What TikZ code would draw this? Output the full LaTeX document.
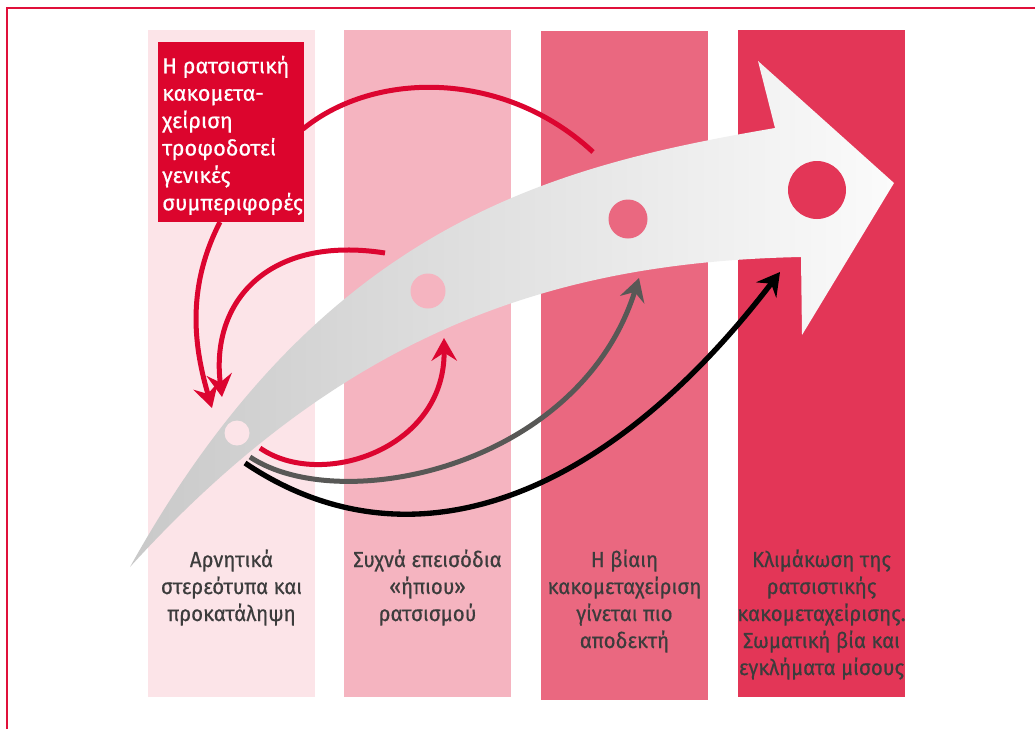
\documentclass[tikz,border=0pt]{standalone}
\usepackage{fontspec}
\setmainfont{Fira Sans}[FakeBold=0.6]
\newfontfamily\condfont{Fira Sans}[FakeBold=0.5,FakeStretch=0.94]
\newfontfamily\boxfont{Fira Sans}[FakeBold=0.6]
\usetikzlibrary{arrows.meta}
\definecolor{cA}{HTML}{FCE4E8}
\definecolor{cB}{HTML}{F5B4C0}
\definecolor{cC}{HTML}{EA6880}
\definecolor{cD}{HTML}{E33657}
\definecolor{boxred}{HTML}{DC052D}
\definecolor{arrred}{HTML}{DC0530}
\definecolor{arrgray}{HTML}{585856}
\definecolor{txtgray}{HTML}{3C3C3C}
\definecolor{framered}{HTML}{E0103A}
\definecolor{bandL}{HTML}{C9C9C9}
\definecolor{bandR}{HTML}{FBFBFB}
\begin{document}
\begin{tikzpicture}[x=0.75pt,y=-0.75pt,
  tip/.style={-{Stealth[length=17pt,width=19pt,inset=6pt]}},
  redarr/.style={draw=arrred,line width=3.75pt,tip},
  redline/.style={draw=arrred,line width=3.75pt},
  grayarr/.style={draw=arrgray,line width=3.75pt,tip},
  blackarr/.style={draw=black,line width=4pt,tip},
  boxtxt/.style={font=\boxfont\fontsize{16.3}{20}\selectfont,text=white,anchor=base west,inner sep=0pt},
  btext/.style={font=\condfont\fontsize{16.3}{20}\selectfont,text=txtgray,anchor=base,inner sep=0pt}]
\useasboundingbox (0,0) rectangle (1035,729);
\fill[white] (0,0) rectangle (1035,729);
% frame
\draw[framered,line width=1.5pt] (6.5,729) -- (6.5,7.5) -- (1035,7.5);
% columns
\fill[cA] (148,30) rectangle (315,697);
\fill[cB] (344,30) rectangle (511,697);
\fill[cC] (541,31) rectangle (708,700);
\fill[cD] (738,30) rectangle (905,697);
% big arrow band
\shade[left color=bandL,right color=bandR]
  (130,567) .. controls (322,222) and (554,166) .. (775,128)
  -- (758,61) -- (894,183) -- (802,335) -- (801,257)
  .. controls (563,262) and (350,325) .. (130,567) -- cycle;
% dots
\fill[cA] (237,433) circle[radius=12.5];
\fill[cB] (428,291) circle[radius=17.5];
\fill[cC] (628,219) circle[radius=19.5];
\fill[cD] (817,190) circle[radius=29];
% coordinates
\coordinate (a1s) at (220,222);
\coordinate (a1e) at (212,408);
\coordinate (a2s) at (303,129);
\coordinate (a2e) at (593,152);
\coordinate (a3s) at (385,253);
\coordinate (a3e) at (222,397);
\coordinate (a4s) at (260,448);
\coordinate (a4e) at (444,338);
\coordinate (g1s) at (250,457);
\coordinate (g1e) at (639,278);
\coordinate (k1s) at (245,463);
\coordinate (k1e) at (780,272);
% arrows
\draw[redline] (a2s) .. controls (375,70) and (505,70) .. (a2e);
\draw[redarr] (a1s) .. controls (185,290) and (195,350) .. (a1e);
\draw[redarr] (a3s) .. controls (270,235) and (210,300) .. (a3e);
\draw[redarr] (a4s) .. controls (320,490) and (445,450) .. (a4e);
\draw[grayarr] (g1s) .. controls (340,517) and (579,468) .. (g1e);
\draw[blackarr] (k1s) .. controls (405,571) and (600,507) .. (k1e);
% red box
\node[fill=boxred,inner sep=0pt,minimum width=109.5pt,minimum height=135pt,anchor=north west] (box) at (158,42) {};
\node[boxtxt] (b1) at (162,73.3) {Η ρατσιστική};
\node[boxtxt] (b2) at (162,100.7) {κακομετα-};
\node[boxtxt] (b3) at (162,128.1) {χείριση};
\node[boxtxt] (b4) at (162,155.5) {τροφοδοτεί};
\node[boxtxt] (b5) at (162,182.9) {γενικές};
\node[boxtxt] (b6) at (162,210.3) {συμπεριφορές};
% bottom texts
\node[btext] (c1a) at (231.5,567) {Αρνητικά};
\node[btext] (c1b) at (231.5,594) {στερεότυπα και};
\node[btext] (c1c) at (231.5,621) {προκατάληψη};
\node[btext] (c2a) at (427.5,567) {Συχνά επεισόδια};
\node[btext] (c2b) at (427.5,594) {«ήπιου»};
\node[btext] (c2c) at (427.5,621) {ρατσισμού};
\node[btext] (c3a) at (624.5,567) {Η βίαιη};
\node[btext] (c3b) at (624.5,594) {κακομεταχείριση};
\node[btext] (c3c) at (624.5,621) {γίνεται πιο};
\node[btext] (c3d) at (624.5,648) {αποδεκτή};
\node[btext] (c4a) at (821.5,567) {Κλιμάκωση της};
\node[btext] (c4b) at (821.5,594) {ρατσιστικής};
\node[btext] (c4c) at (821.5,621) {κακομεταχείρισης.};
\node[btext] (c4d) at (821.5,648) {Σωματική βία και};
\node[btext] (c4e) at (821.5,675) {εγκλήματα μίσους};
\end{tikzpicture}
\end{document}
